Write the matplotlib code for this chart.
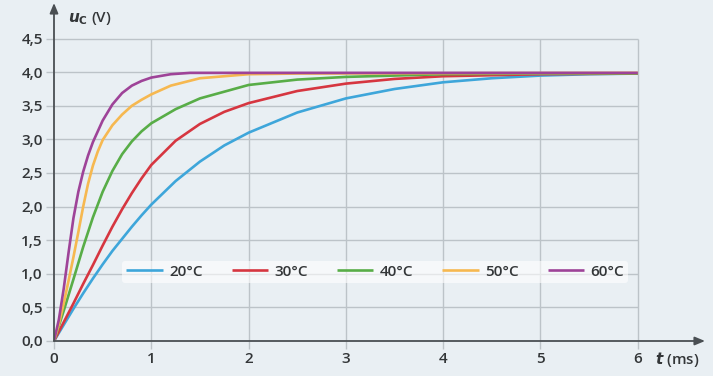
import matplotlib.pyplot as plt

# values (t in ms, u_C in V)
t_20 = [0, 0.1, 0.2, 0.3, 0.4, 0.5, 0.6, 0.7, 0.8, 0.9, 1.0, 1.25, 1.5, 1.75, 2.0,
        2.5, 3.0, 3.5, 4.0, 4.5, 5.0, 5.5, 6.0]
u_20 = [0, 0.24, 0.48, 0.71, 0.93, 1.14, 1.34, 1.52, 1.70, 1.87, 2.03, 2.38, 2.67, 2.91, 3.10,
        3.40, 3.61, 3.75, 3.85, 3.91, 3.95, 3.97, 3.98]

t_30 = [0, 0.1, 0.2, 0.3, 0.4, 0.5, 0.6, 0.7, 0.8, 0.9, 1.0, 1.25, 1.5, 1.75, 2.0,
        2.5, 3.0, 3.5, 4.0, 5.0, 6.0]
u_30 = [0, 0.28, 0.56, 0.85, 1.13, 1.42, 1.70, 1.96, 2.20, 2.42, 2.62, 2.98, 3.23, 3.41, 3.54,
        3.72, 3.83, 3.90, 3.94, 3.97, 3.98]

t_40 = [0, 0.1, 0.2, 0.3, 0.4, 0.5, 0.6, 0.7, 0.8, 0.9, 1.0, 1.25, 1.5, 2.0, 2.5, 3.0, 4.0, 5.0, 6.0]
u_40 = [0, 0.45, 0.92, 1.40, 1.84, 2.22, 2.53, 2.78, 2.97, 3.12, 3.24, 3.45, 3.61, 3.81, 3.89, 3.93, 3.97, 3.98, 3.98]

t_50 = [0, 0.05, 0.1, 0.15, 0.2, 0.25, 0.3, 0.35, 0.4, 0.45, 0.5, 0.6, 0.7, 0.8, 0.9, 1.0, 1.2, 1.5, 2.0, 2.5, 6.0]
u_50 = [0, 0.25, 0.56, 0.90, 1.25, 1.62, 2.00, 2.34, 2.61, 2.82, 2.99, 3.21, 3.37, 3.50, 3.59, 3.67, 3.80, 3.91, 3.97, 3.98, 3.99]

t_60 = [0, 0.05, 0.1, 0.15, 0.2, 0.25, 0.3, 0.35, 0.4, 0.5, 0.6, 0.7, 0.8, 0.9, 1.0, 1.2, 1.4, 6.0]
u_60 = [0, 0.32, 0.78, 1.32, 1.83, 2.22, 2.52, 2.76, 2.96, 3.28, 3.52, 3.69, 3.80, 3.87, 3.92, 3.97, 3.99, 3.99]

labels = ['20°C', '30°C', '40°C', '50°C', '60°C']
colors = ['#3ea6da', '#d63640', '#58ad47', '#f6b850', '#9e4398']

x_ticks = [0, 1, 2, 3, 4, 5, 6]
y_ticks = [0, 0.5, 1.0, 1.5, 2.0, 2.5, 3.0, 3.5, 4.0, 4.5]

plt.rcParams['font.family'] = ['Open Sans', 'DejaVu Sans']
plt.rcParams['font.weight'] = 'semibold'
bg = '#e9eff3'
grid_c = '#bcc3c8'
axis_c = '#4a4f53'
text_c = '#333638'

fig = plt.figure(figsize=(7.13, 3.76), dpi=100, facecolor=bg)
ax = fig.add_axes([54 / 713, 35 / 376, 651 / 713, 338 / 376])
ax.set_facecolor(bg)
ax.set_xlim(0, 651 / 97.3)
ax.set_ylim(0, 338 / 67.2)
for s in ax.spines.values():
    s.set_visible(False)

# grid only inside the 0..6 / 0..4.5 area
ax.hlines(y_ticks[1:], 0, 6, color=grid_c, lw=1, zorder=1)
ax.vlines(x_ticks[1:], 0, 4.5, color=grid_c, lw=1, zorder=1)

series = [(t_20, u_20), (t_30, u_30), (t_40, u_40), (t_50, u_50), (t_60, u_60)]
for (t, u), lab, c in zip(series, labels, colors):
    ax.plot(t, u, color=c, lw=1.9, label=lab, zorder=3, solid_capstyle='butt')

# axes with arrows
arrow = dict(arrowstyle='-|>,head_length=0.6,head_width=0.25', color=axis_c, lw=1.3,
             shrinkA=0, shrinkB=0)
ax.annotate('', xy=(651 / 97.3, 0), xytext=(0, 0), arrowprops=arrow, annotation_clip=False, zorder=4)
ax.annotate('', xy=(0, 338 / 67.2), xytext=(0, 0), arrowprops=arrow, annotation_clip=False, zorder=4)

ax.set_xticks(x_ticks)
ax.set_xticklabels([str(v) for v in x_ticks])
ax.set_yticks(y_ticks)
ax.set_yticklabels([f'{v:.1f}'.replace('.', ',') for v in y_ticks])
ax.tick_params(axis='both', colors=grid_c, length=6, width=1, labelcolor=text_c, labelsize=11)
ax.tick_params(axis='x', pad=2)
ax.tick_params(axis='y', pad=2)

ax.text(6.18, -0.27, r'$t$ (ms)', color=text_c, fontsize=11, ha='left', va='center')
ax.text(0.14, 4.8, r'$u_{\mathrm{C}}$ (V)', color=text_c, fontsize=11, ha='left', va='center')

leg = ax.legend(loc='center', bbox_to_anchor=(3.3, 1.03), bbox_transform=ax.transData,
                ncol=5, frameon=True, fontsize=11, handlelength=2.4, handletextpad=0.4,
                columnspacing=1.9, borderpad=0.25, labelcolor=text_c)
leg.get_frame().set_facecolor('white')
leg.get_frame().set_alpha(0.6)
leg.get_frame().set_edgecolor('none')
leg.set_zorder(5)

fig.savefig('out.png', dpi=100, facecolor=bg)
